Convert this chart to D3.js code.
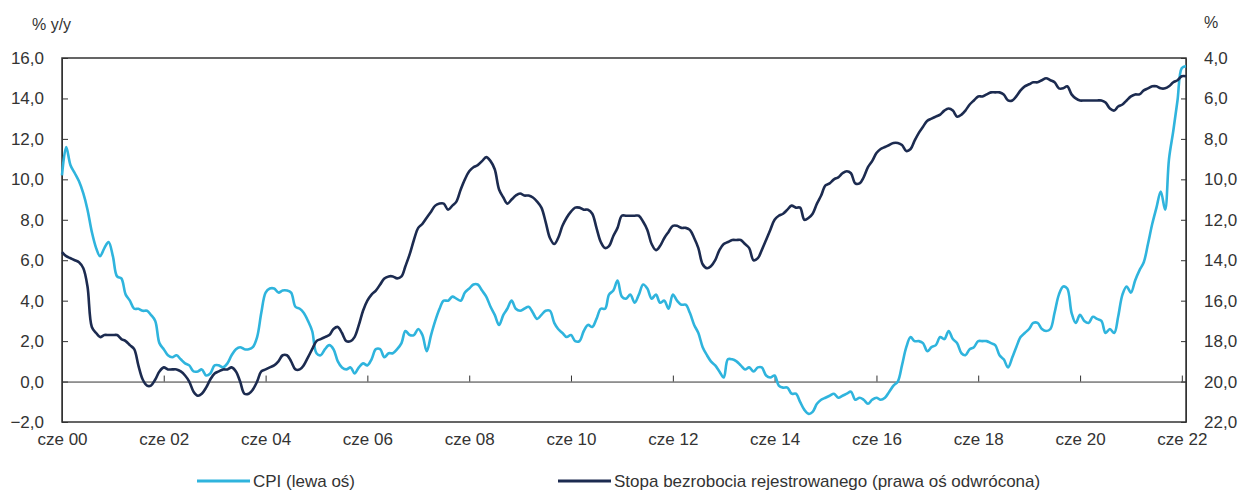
<!DOCTYPE html>
<html>
<head>
<meta charset="utf-8">
<script src="https://cdn.jsdelivr.net/npm/d3@7"></script>
<style>
  body { margin: 0; background: #fff; }
  svg { display: block; font-family: "Liberation Sans", Arial, sans-serif; }
  .axis text { fill: #333; font-size: 17px; }
  .axis path, .axis line { stroke: #333; }
</style>
</head>
<body>
<script>
/* global d3 */

// monthly data, cze 2000 .. lip 2022
const startMonth = new Date(2000, 5, 1)

const cpi = [
  10.2, 11.6, 10.7, 10.3, 9.9, 9.3, 8.5,
  7.4, 6.6, 6.2, 6.6, 6.9, 6.2, 5.2, 5.1, 4.3, 4.0, 3.6, 3.6,
  3.5, 3.5, 3.3, 3.0, 1.9, 1.6, 1.3, 1.2, 1.3, 1.1, 0.9, 0.8,
  0.5, 0.5, 0.6, 0.3, 0.4, 0.8, 0.8, 0.7, 0.9, 1.3, 1.6, 1.7,
  1.6, 1.6, 1.7, 2.2, 3.4, 4.4, 4.6, 4.6, 4.4, 4.5, 4.5, 4.4,
  3.7, 3.6, 3.4, 3.0, 2.5, 1.4, 1.3, 1.6, 1.8, 1.6, 1.0, 0.7,
  0.6, 0.7, 0.4, 0.7, 0.9, 0.8, 1.1, 1.6, 1.6, 1.2, 1.4, 1.4,
  1.6, 1.9, 2.5, 2.3, 2.3, 2.6, 2.3, 1.5, 2.3, 3.0, 3.6, 4.0,
  4.0, 4.2, 4.1, 4.0, 4.4, 4.6, 4.8, 4.8, 4.5, 4.2, 3.7, 3.3,
  2.8, 3.3, 3.6, 4.0, 3.6, 3.5, 3.6, 3.7, 3.4, 3.1, 3.3, 3.5,
  3.5, 2.9, 2.6, 2.4, 2.2, 2.3, 2.0, 2.0, 2.5, 2.8, 2.7, 3.1,
  3.6, 3.6, 4.3, 4.5, 5.0, 4.2, 4.1, 4.3, 3.9, 4.3, 4.8, 4.6,
  4.1, 4.3, 3.9, 4.0, 3.6, 4.3, 4.0, 3.8, 3.8, 3.4, 2.8, 2.4,
  1.7, 1.3, 1.0, 0.8, 0.5, 0.2, 1.1, 1.1, 1.0, 0.8, 0.6, 0.7,
  0.5, 0.7, 0.7, 0.3, 0.2, 0.3, -0.2, -0.3, -0.3, -0.6, -0.6, -1.0,
  -1.4, -1.6, -1.5, -1.1, -0.9, -0.8, -0.7, -0.6, -0.8, -0.7, -0.6, -0.5,
  -0.9, -0.8, -0.9, -1.1, -0.9, -0.8, -0.9, -0.8, -0.5, -0.2, 0.0, 0.8,
  1.7, 2.2, 2.0, 2.0, 1.9, 1.5, 1.7, 1.8, 2.2, 2.1, 2.5, 2.1,
  1.9, 1.4, 1.3, 1.6, 1.7, 2.0, 2.0, 2.0, 1.9, 1.8, 1.3, 1.1,
  0.7, 1.2, 1.7, 2.2, 2.4, 2.6, 2.9, 2.9, 2.6, 2.5, 2.6, 3.4,
  4.3, 4.7, 4.6, 3.4, 2.9, 3.3, 3.0, 2.9, 3.2, 3.1, 3.0, 2.4,
  2.6, 2.4, 3.2, 4.3, 4.7, 4.4, 5.0, 5.5, 5.9, 6.8, 7.8, 8.6,
  9.4, 8.5, 11.0, 12.4, 13.9, 15.5, 15.6
]

const unemployment = [
  13.6, 13.8, 13.9, 14.0, 14.1, 14.4, 15.3,
  17.3, 17.6, 17.8, 17.7, 17.7, 17.7, 17.7, 17.9, 18.0, 18.2, 18.4, 19.2,
  19.9, 20.2, 20.2, 19.9, 19.5, 19.3, 19.4, 19.4, 19.4, 19.5, 19.7, 20.0,
  20.5, 20.7, 20.6, 20.3, 19.9, 19.6, 19.5, 19.4, 19.4, 19.3, 19.5, 20.0,
  20.6, 20.6, 20.4, 20.0, 19.5, 19.4, 19.3, 19.2, 19.0, 18.7, 18.7, 19.0,
  19.4, 19.4, 19.2, 18.8, 18.4, 18.0, 17.9, 17.8, 17.7, 17.4, 17.3, 17.6,
  18.0, 18.0, 17.8, 17.2, 16.5, 16.0, 15.7, 15.5, 15.2, 14.9, 14.8, 14.8,
  14.9, 14.8, 14.3, 13.7, 13.0, 12.4, 12.2, 11.9, 11.6, 11.3, 11.2, 11.2,
  11.5, 11.3, 11.1, 10.5, 10.0, 9.6, 9.4, 9.3, 9.1, 8.9, 9.1, 9.5,
  10.5, 10.9, 11.2, 11.0, 10.8, 10.7, 10.8, 10.8, 10.9, 11.1, 11.4, 12.1,
  12.9, 13.2, 12.9, 12.3, 11.9, 11.6, 11.4, 11.4, 11.5, 11.5, 11.7, 12.4,
  13.1, 13.4, 13.3, 12.8, 12.4, 11.8, 11.8, 11.8, 11.8, 11.8, 12.1, 12.5,
  13.2, 13.5, 13.3, 12.9, 12.6, 12.3, 12.3, 12.4, 12.4, 12.5, 12.9, 13.4,
  14.2, 14.4, 14.3, 14.0, 13.5, 13.2, 13.1, 13.0, 13.0, 13.0, 13.2, 13.4,
  14.0, 13.9, 13.5, 13.0, 12.5, 12.0, 11.8, 11.7, 11.5, 11.3, 11.4, 11.4,
  12.0, 11.9, 11.7, 11.2, 10.8, 10.3, 10.2, 10.0, 9.9, 9.7, 9.6, 9.7,
  10.2, 10.2, 9.9, 9.4, 9.1, 8.7, 8.5, 8.4, 8.3, 8.2, 8.2, 8.3,
  8.6, 8.5, 8.1, 7.7, 7.4, 7.1, 7.0, 6.9, 6.8, 6.6, 6.5, 6.6,
  6.9, 6.8, 6.6, 6.3, 6.1, 5.9, 5.9, 5.8, 5.7, 5.7, 5.7, 5.8,
  6.1, 6.1, 5.9, 5.6, 5.4, 5.3, 5.2, 5.2, 5.1, 5.0, 5.1, 5.2,
  5.5, 5.5, 5.4, 5.8, 6.0, 6.1, 6.1, 6.1, 6.1, 6.1, 6.1, 6.2,
  6.5, 6.6, 6.4, 6.3, 6.1, 5.9, 5.8, 5.8, 5.6, 5.5, 5.4, 5.4,
  5.5, 5.5, 5.4, 5.2, 5.1, 4.9, 4.9
]

const tickYears = [2000, 2002, 2004, 2006, 2008, 2010, 2012, 2014, 2016, 2018, 2020, 2022]
const tickLabels = ['cze 00', 'cze 02', 'cze 04', 'cze 06', 'cze 08', 'cze 10',
  'cze 12', 'cze 14', 'cze 16', 'cze 18', 'cze 20', 'cze 22']
const leftTicks = [-2, 0, 2, 4, 6, 8, 10, 12, 14, 16]
const rightTicks = [4, 6, 8, 10, 12, 14, 16, 18, 20, 22]
const legendLabels = ['CPI (lewa oś)', 'Stopa bezrobocia rejestrowanego (prawa oś odwrócona)']

const colors = { cpi: '#2fb4dd', unemp: '#1c2b50' }

const w = 1239, h = 492
const m = { top: 58, right: 53, bottom: 70, left: 62 }

const svg = d3.select('body').append('svg')
  .attr('width', w)
  .attr('height', h)

const dates = cpi.map((d, i) => d3.timeMonth.offset(startMonth, i))

const x = d3.scaleTime()
  .domain([dates[0], dates[dates.length - 1]])
  .range([m.left, w - m.right])

const yL = d3.scaleLinear().domain([-2, 16]).range([h - m.bottom, m.top])
const yR = d3.scaleLinear().domain([4, 22]).range([m.top, h - m.bottom])

const fmt = d => d3.format('.1f')(d).replace('.', ',')

// left axis, ticks pointing inward
svg.append('g')
  .attr('class', 'axis')
  .attr('transform', `translate(${m.left},0)`)
  .call(d3.axisLeft(yL).tickValues(leftTicks).tickFormat(fmt).tickSizeInner(-6).tickSizeOuter(0).tickPadding(18))

svg.append('g')
  .attr('class', 'axis')
  .attr('transform', `translate(${w - m.right},0)`)
  .call(d3.axisRight(yR).tickValues(rightTicks).tickFormat(fmt).tickSizeInner(-5).tickSizeOuter(0).tickPadding(18))

const tickDates = tickYears.map(y => new Date(y, 5, 1))

// ticks sit on the zero line
svg.append('g')
  .attr('class', 'axis')
  .attr('transform', `translate(0,${yL(0)})`)
  .call(d3.axisBottom(x).tickValues(tickDates).tickFormat('').tickSizeInner(-6).tickSizeOuter(0))

// labels under the frame
const xLab = svg.append('g')
  .attr('class', 'axis')
  .attr('transform', `translate(0,${h - m.bottom})`)
  .call(d3.axisBottom(x).tickValues(tickDates).tickFormat((d, i) => tickLabels[i]).tickSize(0).tickPadding(11))
xLab.select('.domain').remove()

// frame
svg.append('rect')
  .attr('x', m.left)
  .attr('y', m.top)
  .attr('width', w - m.right - m.left)
  .attr('height', h - m.bottom - m.top)
  .attr('fill', 'none')
  .attr('stroke', '#333')
  .attr('stroke-width', 1.5)

const lineL = d3.line().x((d, i) => x(dates[i])).y(d => yL(d)).curve(d3.curveCatmullRom)
const lineR = d3.line().x((d, i) => x(dates[i])).y(d => yR(d)).curve(d3.curveCatmullRom)

svg.append('path')
  .datum(cpi)
  .attr('fill', 'none')
  .attr('stroke', colors.cpi)
  .attr('stroke-width', 2.6)
  .attr('d', lineL)

svg.append('path')
  .datum(unemployment)
  .attr('fill', 'none')
  .attr('stroke', colors.unemp)
  .attr('stroke-width', 2.6)
  .attr('d', lineR)

// axis titles
svg.append('text')
  .attr('x', 32).attr('y', 30)
  .attr('font-size', 16).attr('fill', '#333')
  .text('% y/y')

svg.append('text')
  .attr('x', 1204).attr('y', 28)
  .attr('font-size', 16).attr('fill', '#333')
  .text('%')

// legend
const legend = [
  { label: legendLabels[0], color: colors.cpi, x: 197 },
  { label: legendLabels[1], color: colors.unemp, x: 558 }
]

const lg = svg.append('g').selectAll('g').data(legend).enter().append('g')
  .attr('transform', d => `translate(${d.x},481)`)

lg.append('line')
  .attr('x1', 0).attr('x2', 53)
  .attr('stroke', d => d.color)
  .attr('stroke-width', 3)

lg.append('text')
  .attr('x', 56)
  .attr('dy', '0.35em')
  .attr('font-size', 17)
  .attr('fill', '#333')
  .text(d => d.label)
</script>
</body>
</html>
